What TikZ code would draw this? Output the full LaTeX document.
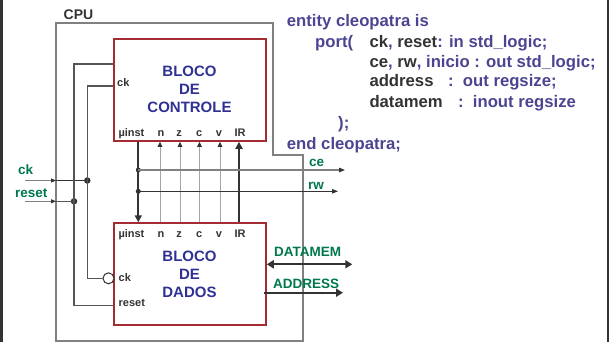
\documentclass[tikz,border=0pt]{standalone}
\usepackage{fontspec}
\setmainfont{Liberation Sans}
\usetikzlibrary{arrows.meta}
\definecolor{vblue}{RGB}{46,49,146}
\definecolor{vpurple}{RGB}{75,69,145}
\definecolor{vgreen}{RGB}{0,120,76}
\definecolor{vred}{RGB}{163,43,50}
\definecolor{vdark}{RGB}{51,51,51}
\definecolor{vmid}{RGB}{85,85,85}
\definecolor{vgray}{RGB}{128,128,128}
\definecolor{vlight}{RGB}{165,165,165}
\tikzset{
  block/.style={draw=vred, line width=1.5pt, minimum width=152pt, minimum height=102pt, inner sep=0pt},
  btext/.style={align=center, text=vblue, inner sep=0pt, font=\fontsize{15}{18}\selectfont\bfseries},
  pinlbl/.style={text=vdark, inner sep=0pt, font=\fontsize{11}{12}\selectfont\bfseries},
  sig/.style={text=vgreen, inner sep=0pt, anchor=base west, font=\fontsize{13.5}{15}\selectfont\bfseries},
  code/.style={text=vpurple, inner sep=0pt, anchor=base west, font=\fontsize{16.7}{20}\selectfont\bfseries},
  cpuline/.style={draw=vgray, line width=1.2pt},
  wire/.style={draw=vmid, line width=1.1pt},
  busthick/.style={draw=vdark, line width=2pt, -{Triangle[length=7pt,width=7pt]}},
  busthin/.style={draw=vlight, line width=1pt, -{Triangle[length=5pt,width=4.5pt,color=vdark]}},
  outsig/.style={line width=1.3pt, -{Triangle[length=6pt,width=4.5pt,color=vdark]}},
  bigsig/.style={draw=vdark, line width=2pt},
  inarrow/.style={draw=vgray, line width=0.9pt, -{Triangle[length=5pt,width=4pt,color=vdark]}},
  junction/.style={circle, fill=vdark, inner sep=0pt, minimum size=#1},
  junction/.default=6.5pt,
  bubble/.style={circle, draw=vdark, fill=white, line width=1pt, inner sep=0pt, minimum size=11pt}
}
\begin{document}
\begin{tikzpicture}[x=1pt, y=-1pt]
\useasboundingbox (0,0) rectangle (609,342);
% slide side borders
\draw[vdark, line width=2.5pt] (1.25,0) -- (1.25,342);
\draw[vdark, line width=1.2pt] (608,0) -- (608,342);

% CPU outline
\draw[cpuline] (56,23) -- (273,23) -- (273,155) -- (303,155) -- (303,341) -- (56,341) -- cycle;
\node[text=vdark, inner sep=0pt, anchor=base west, font=\fontsize{14}{15}\selectfont\bfseries] (cpu) at (63.5,20) {CPU};

% blocks
\node[block] (ctrl) at (190,90) {};
\node[block] (data) at (190,274) {};
\node[btext] (ctrltxt) at (189.5,89) {BLOCO\\DE\\CONTROLE};
\node[btext] (datatxt) at (189.5,274) {BLOCO\\DE\\DADOS};

% pin labels, control block
\node[pinlbl, anchor=base west] (cck) at (117,86.7) {ck};
\node[pinlbl, anchor=base west] (cmu) at (118.3,136) {µinst};
\node[pinlbl, anchor=base] (cn) at (161,136) {n};
\node[pinlbl, anchor=base] (cz) at (179,136) {z};
\node[pinlbl, anchor=base] (cc) at (199.3,136) {c};
\node[pinlbl, anchor=base] (cv) at (219,136) {v};
\node[pinlbl, anchor=base] (cir) at (240,136) {IR};
% pin labels, data block
\node[pinlbl, anchor=base west] (dmu) at (118.3,237) {µinst};
\node[pinlbl, anchor=base] (dn) at (161,237) {n};
\node[pinlbl, anchor=base] (dz) at (179,237) {z};
\node[pinlbl, anchor=base] (dc) at (199.3,237) {c};
\node[pinlbl, anchor=base] (dv) at (219,237) {v};
\node[pinlbl, anchor=base] (dir) at (240,237) {IR};
\node[pinlbl, anchor=base west] (dck) at (118.5,281.7) {ck};
\node[pinlbl, anchor=base west] (drst) at (118.5,306) {reset};

% bus columns
\coordinate (xmu) at (138.3,0);
\coordinate (xn) at (160,0);
\coordinate (xz) at (180,0);
\coordinate (xc) at (199.5,0);
\coordinate (xv) at (220,0);
\coordinate (xir) at (239,0);
\draw[busthick] (ctrl.south -| xmu) -- (data.north -| xmu);
\foreach \col in {xn,xz,xc,xv}
  \draw[busthin] (data.north -| \col) -- (ctrl.south -| \col);
\draw[busthick] (data.north -| xir) -- (ctrl.south -| xir);

% ce and rw outputs
\node[junction=5pt] (jce) at (138.3,170) {};
\node[junction=5pt] (jrw) at (138.3,191.3) {};
\coordinate (ceend) at (345,170);
\coordinate (rwend) at (338,191.3);
\draw[outsig, draw=vgray] (jce.center) -- (ceend);
\draw[outsig, draw=vdark, line width=1pt] (jrw.center) -- (rwend);
\node[sig] (lce) at (309,166.7) {ce};
\node[sig] (lrw) at (308,189) {rw};

% DATAMEM and ADDRESS
\coordinate (dmend) at (352.3,264.3);
\coordinate (adend) at (343,292.7);
\coordinate (adstart) at (264,292.7);
\draw[bigsig, {Triangle[length=7pt,width=8pt]}-{Triangle[length=7pt,width=8pt]}] (data.east |- dmend) -- (dmend);
\draw[bigsig, -{Triangle[length=7pt,width=8pt]}] (adstart) -- (adend);
\node[sig] (ldm) at (274,256) {DATAMEM};
\node[sig] (lad) at (273,288.3) {ADDRESS};

% external ck / reset inputs
\coordinate (ckin) at (25,180.5);
\coordinate (ckcpu) at (56,180.5);
\coordinate (rsin) at (25,201.3);
\coordinate (rscpu) at (56,201.3);
\node[junction] (ckdot) at (87.3,180.5) {};
\node[junction] (rsdot) at (74,201.3) {};
\draw[inarrow] (ckin) -- (ckcpu);
\draw[inarrow] (rsin) -- (rscpu);
\draw[draw=vdark, line width=1.8pt] (ckcpu) -- (ckdot.center);
\draw[wire] (rscpu) -- (rsdot.center);
\node[sig] (lck) at (18,174) {ck};
\node[sig] (lrs) at (15,197.7) {reset};

% internal ck wire
\coordinate (ckt) at (87.3,86);
\coordinate (ckb) at (87.3,278.3);
\node[bubble] (bub) at (108.5,278.3) {};
\draw[wire] (ctrl.west |- ckt) -- (ckt) -- (ckb) -- (bub.west);
% internal reset wire
\coordinate (rst) at (74,64);
\coordinate (rsb) at (74,305.7);
\draw[wire] (ctrl.west |- rst) -- (rst) -- (rsb) -- (data.west |- rsb);

% VHDL entity text
\node[code] (l1) at (286.7,26.5) {entity cleopatra is};
\node[code] (l2a) at (315,48) {port(};
\node[code] (l2b) at (369.3,48) {{\color{vdark}ck}, {\color{vdark}reset}: in std\_logic;};
\node[code] (l3) at (369.3,67.5) {{\color{vdark}ce}, {\color{vdark}rw}, inicio : out std\_logic;};
\node[code, text=vdark] (l4a) at (369.3,87) {address};
\node[code] (l4b) at (448,87) {:};
\node[code] (l4c) at (462.7,87) {out regsize;};
\node[code, text=vdark] (l5a) at (369.3,107) {datamem};
\node[code] (l5b) at (458,107) {:};
\node[code] (l5c) at (472.7,107) {inout regsize};
\node[code] (l6) at (338,128.5) {);};
\node[code] (l7) at (286.7,149) {end cleopatra;};
\end{tikzpicture}
\end{document}
